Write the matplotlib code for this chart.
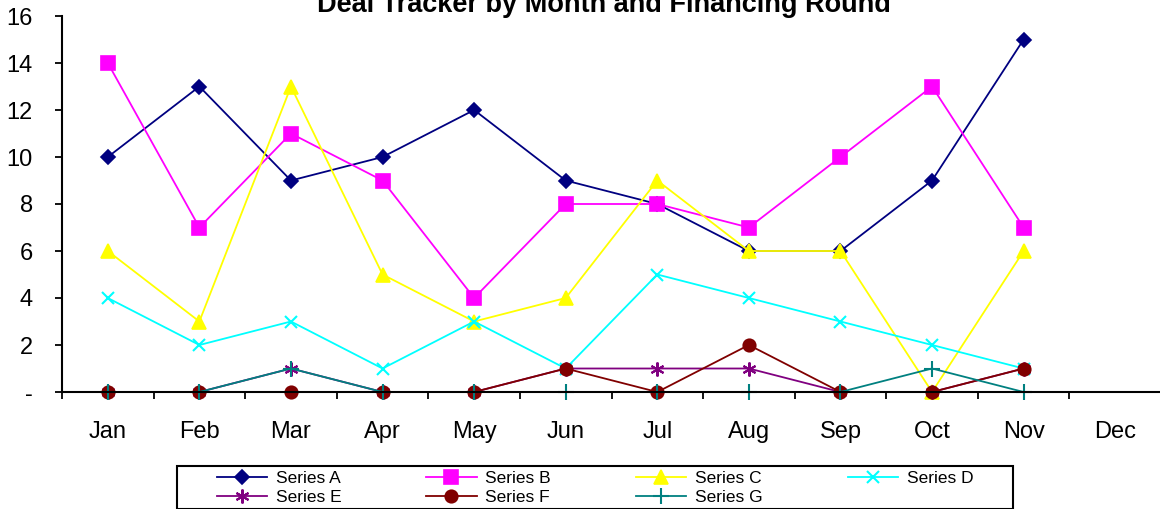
import matplotlib.pyplot as plt
from matplotlib.patches import Rectangle
from matplotlib.ticker import FixedLocator, NullFormatter, FixedFormatter

plt.rcParams['font.family'] = ['Liberation Sans', 'DejaVu Sans']

# Data
months = ['Jan', 'Feb', 'Mar', 'Apr', 'May', 'Jun', 'Jul', 'Aug', 'Sep', 'Oct', 'Nov', 'Dec']
series_a = [10, 13, 9, 10, 12, 9, 8, 6, 6, 9, 15]
series_b = [14, 7, 11, 9, 4, 8, 8, 7, 10, 13, 7]
series_c = [6, 3, 13, 5, 3, 4, 9, 6, 6, 0, 6]
series_d = [4, 2, 3, 1, 3, 1, 5, 4, 3, 2, 1]
series_e = [0, 0, 1, 0, 0, 1, 1, 1, 0, 0, 1]
series_f = [0, 0, 0, 0, 0, 1, 0, 2, 0, 0, 1]
series_g = [0, 0, 1, 0, 0, 0, 0, 0, 0, 1, 0]
y_ticks = [0, 2, 4, 6, 8, 10, 12, 14, 16]
y_labels = ['-', '2', '4', '6', '8', '10', '12', '14', '16']

styles = [
    ('Series A', series_a, '#000080', 'D', 7, 1.2),
    ('Series B', series_b, '#FF00FF', 's', 10, 1.2),
    ('Series C', series_c, '#FFFF00', '^', 10, 1.2),
    ('Series D', series_d, '#00FFFF', 'x', 9, 1.5),
    ('Series E', series_e, '#800080', (6, 2, 0), 10, 1.5),
    ('Series F', series_f, '#800000', 'o', 9, 1.2),
    ('Series G', series_g, '#008080', '+', 11, 1.5),
]

fig = plt.figure(figsize=(11.6, 5.09), dpi=100)
ax = fig.add_axes([62 / 1160, 117 / 509, 1099 / 1160, 376 / 509])

handles = {}
for name, vals, color, marker, ms, mew in styles:
    x = list(range(len(vals)))
    h, = ax.plot(x, vals, color=color, lw=1.3, marker=marker, markersize=ms,
                 markeredgewidth=mew, markerfacecolor=color, markeredgecolor=color,
                 label=name, clip_on=False)
    handles[name] = h

ax.set_xlim(-0.5, 11.5)
ax.set_ylim(0, 16)
ax.xaxis.set_major_locator(FixedLocator([i - 0.5 for i in range(13)]))
ax.xaxis.set_major_formatter(NullFormatter())
ax.xaxis.set_minor_locator(FixedLocator(list(range(12))))
ax.xaxis.set_minor_formatter(FixedFormatter(months))
ax.tick_params(axis='x', which='major', direction='out', length=5, width=1.3)
ax.tick_params(axis='x', which='minor', length=0, pad=21, labelsize=17)
ax.set_yticks(y_ticks)
ax.set_yticklabels(y_labels)
ax.tick_params(axis='y', direction='out', length=5, width=1.3, labelsize=17, pad=16)

for s in ['top', 'right']:
    ax.spines[s].set_visible(False)
for s in ['left', 'bottom']:
    ax.spines[s].set_linewidth(1.5)
ax.spines['left'].set_bounds(0, 16)

fig.text(604 / 1160, 1.0 - 12 / 509, 'Deal Tracker by Month and Financing Round',
         ha='center', va='baseline', fontsize=19.5, fontweight='bold')

# legend box
fig.patches.append(Rectangle((177 / 1160, 0), (1013 - 177) / 1160, (509 - 466) / 509,
                             transform=fig.transFigure, fill=False,
                             edgecolor='black', linewidth=1.5))
order = ['Series A', 'Series E', 'Series B', 'Series F', 'Series C', 'Series G', 'Series D']
leg = fig.legend([handles[n] for n in order], order, ncol=4,
                 loc='center', bbox_to_anchor=(595 / 1160, 1 - 488 / 509),
                 fontsize=12.5, frameon=False,
                 handlelength=2.9, handletextpad=0.5, labelspacing=0.25,
                 borderpad=0, borderaxespad=0, columnspacing=4.9)

fig.savefig('out.png', dpi=100)
